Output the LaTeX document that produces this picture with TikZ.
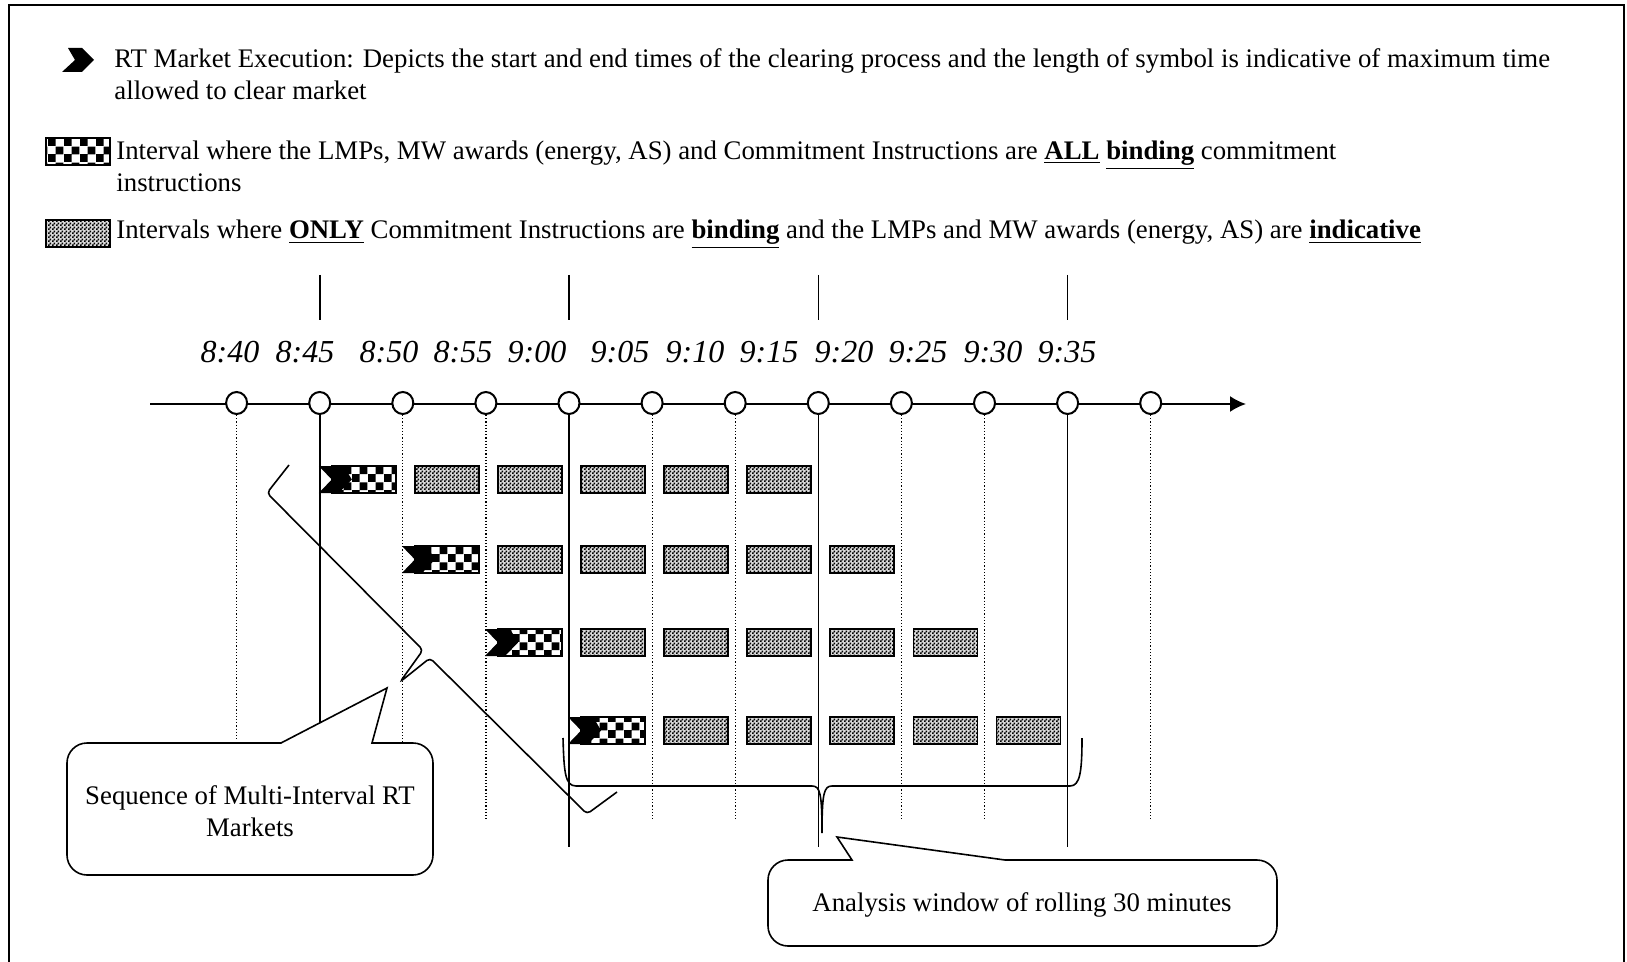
\documentclass[tikz,border=0pt]{standalone}
\usepackage{fontspec}
\setmainfont{Liberation Serif}
\usepackage{tikz}
\usetikzlibrary{arrows.meta,patterns,shapes.geometric}

\pgfdeclarepatternformonly{bigchecker}{\pgfpointorigin}{\pgfqpoint{8pt}{8pt}}{\pgfqpoint{8pt}{8pt}}
  {\pgfpathrectangle{\pgfpointorigin}{\pgfqpoint{4.05pt}{4.05pt}}
   \pgfpathrectangle{\pgfqpoint{4pt}{4pt}}{\pgfqpoint{4.05pt}{4.05pt}}
   \pgfusepath{fill}}
\pgfdeclarepatternformonly{finechecker}{\pgfpointorigin}{\pgfqpoint{2pt}{2pt}}{\pgfqpoint{2pt}{2pt}}
  {\pgfpathrectangle{\pgfpointorigin}{\pgfqpoint{1pt}{1pt}}
   \pgfpathrectangle{\pgfqpoint{1pt}{1pt}}{\pgfqpoint{1pt}{1pt}}
   \pgfusepath{fill}}

% black flag tip on the left end of a binding interval
\newcommand{\flagtip}[1]{\fill ([xshift=-6pt,yshift=6.75pt]#1) -- ++(25,0) -- ++(8,13.5) -- ++(-13,13.5) -- ++(-20,0) -- ++(13,-13.5) -- cycle;}

\begin{document}
\begin{tikzpicture}[x=0.5pt,y=-0.5pt,>={Latex[length=8pt,width=8pt]},node distance=41.55pt,
	font=\fontsize{13.4}{16}\selectfont,
	slot/.style={ellipse,draw,line width=1pt,fill=white,minimum width=10.5pt,minimum height=11pt,inner sep=0pt},
	allbind/.style={draw,line width=0.9pt,pattern=bigchecker,minimum width=32pt,minimum height=13.5pt,inner sep=0pt},
	onlybind/.style={draw,line width=0.9pt,preaction={fill=black!15},pattern=finechecker,minimum width=32pt,minimum height=13.5pt,inner sep=0pt},
	hour/.style={font=\fontsize{16}{19}\selectfont\itshape,inner sep=0pt},
	legtext/.style={anchor=base west,inner sep=0pt},
	guide/.style={line width=0.6pt,densely dotted},
	mark line/.style={line width=0.8pt},
	bubble/.style={line width=0.8pt,fill=white}]
	\useasboundingbox (0,0) rectangle (1627,962);
	\draw[line width=1.2pt] (9,962) -- (9,5) -- (1624,5) -- (1624,962);

	% legend
	\fill (68,48) -- (82,48) -- (94,60) -- (82,72) -- (62,72) -- (75,60) -- cycle;
	\node[allbind]  (icon2) at (78,151.5) {};
	\node[onlybind] (icon3) at (78,233.5) {};
	\node[legtext] (leg1)  at (114,68)  {RT Market Execution: Depicts the start and end times of the clearing process and the length of symbol is indicative of maximum time};
	\node[legtext] (leg1b) at (114,100) {allowed to clear market};
	\node[legtext] (leg2)  at (116,160) {Interval where the LMPs, MW awards (energy, AS) and Commitment Instructions are \underline{\textbf{ALL}} \underline{\textbf{binding}} commitment};
	\node[legtext] (leg2b) at (116,192) {instructions};
	\node[legtext] (leg3)  at (116,239) {Intervals where \underline{\textbf{ONLY}} Commitment Instructions are \underline{\textbf{binding}} and the LMPs and MW awards (energy, AS) are \underline{\textbf{indicative}}};

	% time axis
	\coordinate (tstart) at (150,404);
	\coordinate (tend)   at (1246,404);
	\draw[->,line width=1pt] (tstart) -- (tend);
	\node[slot] (p1)  at (236.6,403) {};
	\node[slot] (p2)  [right of=p1]  {};
	\node[slot] (p3)  [right of=p2]  {};
	\node[slot] (p4)  [right of=p3]  {};
	\node[slot] (p5)  [right of=p4]  {};
	\node[slot] (p6)  [right of=p5]  {};
	\node[slot] (p7)  [right of=p6]  {};
	\node[slot] (p8)  [right of=p7]  {};
	\node[slot] (p9)  [right of=p8]  {};
	\node[slot] (p10) [right of=p9]  {};
	\node[slot] (p11) [right of=p10] {};
	\node[slot] (p12) [right of=p11] {};

	\draw[mark line] (p2 |- 0,275) -- (p2 |- 0,320);
	\draw[mark line] (p5 |- 0,275) -- (p5 |- 0,320);
	\draw[mark line] (p8 |- 0,275) -- (p8 |- 0,320);
	\draw[mark line] (p11 |- 0,275) -- (p11 |- 0,320);
	\draw[mark line] (p2.south) -- (p2 |- 0,723);
	\draw[mark line] (p5.south) -- (p5 |- 0,847);
	\draw[mark line] (p8.south) -- (p8 |- 0,847);
	\draw[mark line] (p11.south) -- (p11 |- 0,847);
	\draw[guide] (p1.south) -- (p1 |- 0,740);
	\draw[guide] (p3.south) -- (p3 |- 0,742);
	\draw[guide] (p4.south) -- (p4 |- 0,821);
	\draw[guide] (p6.south) -- (p6 |- 0,821);
	\draw[guide] (p7.south) -- (p7 |- 0,821);
	\draw[guide] (p9.south) -- (p9 |- 0,821);
	\draw[guide] (p10.south) -- (p10 |- 0,821);
	\draw[guide] (p12.south) -- (p12 |- 0,821);

	\node[hour] (l840) at (230,352)  {8:40};
	\node[hour] (l845) at (305,352)  {8:45};
	\node[hour] (l850) at (389,352)  {8:50};
	\node[hour] (l855) at (463,352)  {8:55};
	\node[hour] (l900) at (537,352)  {9:00};
	\node[hour] (l905) at (620,352)  {9:05};
	\node[hour] (l910) at (695,352)  {9:10};
	\node[hour] (l915) at (769,352)  {9:15};
	\node[hour] (l920) at (844,352)  {9:20};
	\node[hour] (l925) at (918,352)  {9:25};
	\node[hour] (l930) at (993,352)  {9:30};
	\node[hour] (l935) at (1067,352) {9:35};

	% multi-interval markets
	\node[allbind]  (m1b1) at (363.7,479.5) {};
	\node[onlybind] (m1b2) [right of=m1b1] {};
	\node[onlybind] (m1b3) [right of=m1b2] {};
	\node[onlybind] (m1b4) [right of=m1b3] {};
	\node[onlybind] (m1b5) [right of=m1b4] {};
	\node[onlybind] (m1b6) [right of=m1b5] {};
	\node[allbind]  (m2b1) at (446.8,559.5) {};
	\node[onlybind] (m2b2) [right of=m2b1] {};
	\node[onlybind] (m2b3) [right of=m2b2] {};
	\node[onlybind] (m2b4) [right of=m2b3] {};
	\node[onlybind] (m2b5) [right of=m2b4] {};
	\node[onlybind] (m2b6) [right of=m2b5] {};
	\node[allbind]  (m3b1) at (529.9,642.5) {};
	\node[onlybind] (m3b2) [right of=m3b1] {};
	\node[onlybind] (m3b3) [right of=m3b2] {};
	\node[onlybind] (m3b4) [right of=m3b3] {};
	\node[onlybind] (m3b5) [right of=m3b4] {};
	\node[onlybind] (m3b6) [right of=m3b5] {};
	\node[allbind]  (m4b1) at (613.0,730.5) {};
	\node[onlybind] (m4b2) [right of=m4b1] {};
	\node[onlybind] (m4b3) [right of=m4b2] {};
	\node[onlybind] (m4b4) [right of=m4b3] {};
	\node[onlybind] (m4b5) [right of=m4b4] {};
	\node[onlybind] (m4b6) [right of=m4b5] {};
	\flagtip{m1b1.west}
	\flagtip{m2b1.west}
	\flagtip{m3b1.west}
	\flagtip{m4b1.west}

	% braces
	\draw[mark line,rounded corners=2pt] (289,465) -- (267,493) -- (423,650) -- (400,682) -- (430,658) -- (587,814) -- (617,792);
	\draw[mark line] (563,738) .. controls (564,772) and (565,786) .. (576,786) -- (812,786)
		.. controls (820,786) and (822,793) .. (822,833) .. controls (822,793) and (824,786) .. (832,786)
		-- (1070,786) .. controls (1080,786) and (1082,772) .. (1082,738);

	% callouts
	\draw[bubble] (281,743) -- (387,688) -- (372,743) [rounded corners=10pt] -- (433,743) -- (433,875) -- (67,875) -- (67,743) [sharp corners] -- (281,743) -- cycle;
	\draw[bubble] (852,860) -- (837,837) -- (1005,860) [rounded corners=10pt] -- (1277,860) -- (1277,946) -- (768,946) -- (768,860) [sharp corners] -- (852,860) -- cycle;
	\node[align=center] (seq) at (250,811) {Sequence of Multi-Interval RT\\Markets};
	\node (win) at (1022,905) {Analysis window of rolling 30 minutes};
\end{tikzpicture}
\end{document}
